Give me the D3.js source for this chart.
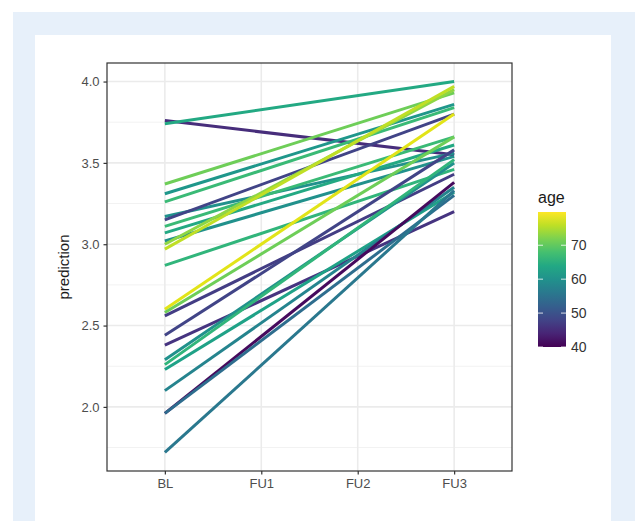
<!DOCTYPE html>
<html>
<head>
    <meta charset="utf-8">
    <title>prediction by visit</title>
    <script src="https://d3js.org/d3.v7.min.js"></script>
    <style>
        body { margin: 0; background: #fff; }
        text { font-family: "Liberation Sans", Arial, sans-serif; }
    </style>
</head>
<body>
    <script>
        // visits on the x axis
        var visits = ["BL", "FU1", "FU2", "FU3"];

        // one line per subject: prediction at BL and at FU3, plus age
        var blValues  = [3.76, 3.74, 3.37, 3.31, 3.26, 3.17, 3.15, 3.11, 3.07, 3.02, 3.00, 2.97, 2.87,
                         2.60, 2.58, 2.56, 2.44, 2.38, 2.29, 2.26, 2.23, 2.10, 1.96, 1.96, 1.72];
        var fu3Values = [3.55, 4.00, 3.93, 3.86, 3.84, 3.56, 3.80, 3.66, 3.61, 3.54, 3.95, 3.97, 3.46,
                         3.80, 3.66, 3.43, 3.58, 3.20, 3.50, 3.52, 3.32, 3.35, 3.38, 3.30, 3.33];
        var ages      = [45, 64, 71, 61, 67, 60, 48, 67, 64, 60, 73, 76, 66,
                         78, 71, 47, 48, 46, 60, 66, 63, 58, 41, 54, 56];

        var yTicks = [2.0, 2.5, 3.0, 3.5, 4.0];
        var yMinor = [1.75, 2.25, 2.75, 3.25, 3.75];
        var ageTicks = [40, 50, 60, 70];
        var ageRange = [40, 79.8];

        var width = 635, height = 521;
        var panel = { left: 107, right: 512, top: 63, bottom: 471 };

        var svg = d3.select("body").append("svg")
            .attr("width", width)
            .attr("height", height);

        // page background
        svg.append("rect").attr("x", 13).attr("y", 12).attr("width", width - 13).attr("height", height - 12)
            .attr("fill", "#e7f0fa");
        svg.append("rect").attr("x", 35).attr("y", 35).attr("width", 576).attr("height", height - 35)
            .attr("fill", "#ffffff");

        var x = d3.scalePoint().domain(visits).range([panel.left, panel.right]).padding(0.6);

        var lo = d3.min(blValues.concat(fu3Values)), hi = d3.max(blValues.concat(fu3Values));
        var pad = (hi - lo) * 0.05;
        var y = d3.scaleLinear().domain([lo - pad, hi + pad]).range([panel.bottom, panel.top]);

        var color = d3.scaleSequential(d3.interpolateViridis).domain(ageRange);

        // grid
        var grid = svg.append("g");
        grid.selectAll(".minor").data(yMinor).enter().append("line")
            .attr("x1", panel.left).attr("x2", panel.right)
            .attr("y1", function(d) { return y(d); }).attr("y2", function(d) { return y(d); })
            .attr("stroke", "#f2f2f2").attr("stroke-width", 1);
        grid.selectAll(".major").data(yTicks).enter().append("line")
            .attr("x1", panel.left).attr("x2", panel.right)
            .attr("y1", function(d) { return y(d); }).attr("y2", function(d) { return y(d); })
            .attr("stroke", "#ebebeb").attr("stroke-width", 1.6);
        grid.selectAll(".vmajor").data(visits).enter().append("line")
            .attr("y1", panel.top).attr("y2", panel.bottom)
            .attr("x1", function(d) { return x(d); }).attr("x2", function(d) { return x(d); })
            .attr("stroke", "#ebebeb").attr("stroke-width", 1.6);

        // subject lines
        var idx = d3.range(blValues.length);
        svg.append("g").selectAll("line").data(idx).enter().append("line")
            .attr("x1", x("BL")).attr("x2", x("FU3"))
            .attr("y1", function(i) { return y(blValues[i]); })
            .attr("y2", function(i) { return y(fu3Values[i]); })
            .attr("stroke", function(i) { return color(ages[i]); })
            .attr("stroke-width", 3);

        // panel border
        svg.append("rect")
            .attr("x", panel.left).attr("y", panel.top)
            .attr("width", panel.right - panel.left).attr("height", panel.bottom - panel.top)
            .attr("fill", "none").attr("stroke", "#333333").attr("stroke-width", 1.2);

        // axes
        var xAxis = d3.axisBottom(x).tickSize(3.5).tickPadding(4);
        var gx = svg.append("g").attr("transform", "translate(0," + panel.bottom + ")").call(xAxis);
        var yAxis = d3.axisLeft(y).tickValues(yTicks).tickFormat(d3.format(".1f")).tickSize(3.5).tickPadding(4);
        var gy = svg.append("g").attr("transform", "translate(" + panel.left + ",0)").call(yAxis);
        [gx, gy].forEach(function(g) {
            g.select(".domain").remove();
            g.selectAll(".tick line").attr("stroke", "#333333").attr("stroke-width", 1.2);
            g.selectAll(".tick text").attr("fill", "#4d4d4d").style("font-size", "13px");
        });

        svg.append("text")
            .attr("transform", "translate(69," + ((panel.top + panel.bottom) / 2) + ") rotate(-90)")
            .attr("text-anchor", "middle")
            .attr("fill", "#1a1a1a")
            .style("font-size", "15px")
            .text("prediction");

        // colour bar legend
        var bar = { x: 538, y: 212, w: 28, h: 135 };
        var defs = svg.append("defs");
        var grad = defs.append("linearGradient").attr("id", "agegrad")
            .attr("x1", "0").attr("y1", "1").attr("x2", "0").attr("y2", "0");
        d3.range(0, 1.0001, 0.1).forEach(function(t) {
            grad.append("stop").attr("offset", t).attr("stop-color", d3.interpolateViridis(t));
        });
        svg.append("rect").attr("x", bar.x).attr("y", bar.y).attr("width", bar.w).attr("height", bar.h)
            .attr("fill", "url(#agegrad)");

        var ay = d3.scaleLinear().domain(ageRange).range([bar.y + bar.h, bar.y]);
        var lg = svg.append("g");
        ageTicks.forEach(function(a) {
            var yy = ay(a);
            lg.append("line").attr("x1", bar.x).attr("x2", bar.x + 5).attr("y1", yy).attr("y2", yy)
                .attr("stroke", "#ffffff").attr("stroke-opacity", 0.8).attr("stroke-width", 1);
            lg.append("line").attr("x1", bar.x + bar.w - 5).attr("x2", bar.x + bar.w).attr("y1", yy).attr("y2", yy)
                .attr("stroke", "#ffffff").attr("stroke-opacity", 0.8).attr("stroke-width", 1);
            lg.append("text").attr("x", bar.x + bar.w + 5).attr("y", yy).attr("dy", "0.35em")
                .attr("fill", "#333333").style("font-size", "14px").text(a);
        });
        svg.append("text").attr("x", bar.x).attr("y", 203)
            .attr("fill", "#1a1a1a").style("font-size", "16px").text("age");
    </script>
</body>
</html>
